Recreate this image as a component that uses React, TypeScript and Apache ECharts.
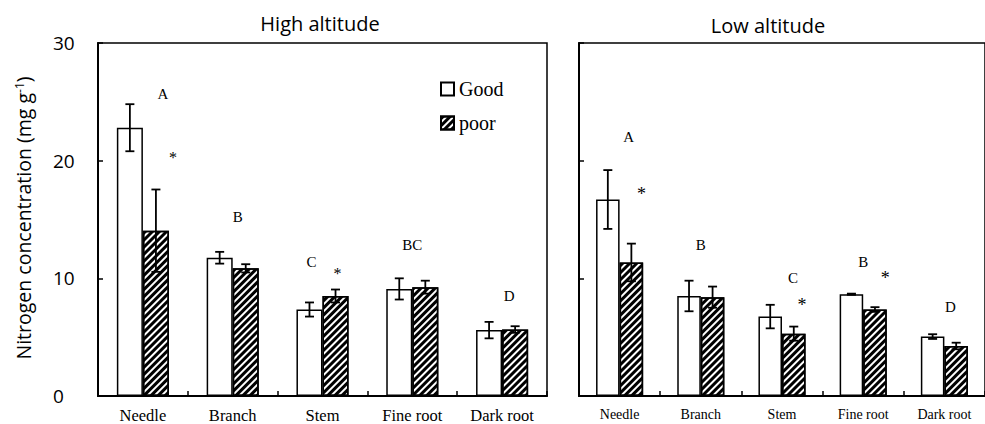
import React, { useEffect, useRef } from "react";
import * as echarts from "echarts";

const categories = ["Needle", "Branch", "Stem", "Fine root", "Dark root"];
const seriesNames = ["Good", "poor"];
const yTicks = [0, 10, 20, 30];

const highGood = [22.8, 11.75, 7.35, 9.1, 5.6];
const highGoodErr = [2.0, 0.5, 0.6, 0.9, 0.7];
const highPoor = [14.05, 10.85, 8.5, 9.25, 5.65];
const highPoorErr = [3.5, 0.35, 0.55, 0.55, 0.28];

const lowGood = [16.7, 8.5, 6.75, 8.65, 5.05];
const lowGoodErr = [2.5, 1.3, 1.0, 0.05, 0.2];
const lowPoor = [11.35, 8.4, 5.3, 7.35, 4.25];
const lowPoorErr = [1.6, 0.9, 0.6, 0.2, 0.28];

const highLetters = ["A", "B", "C", "BC", "D"];
const highLetterY = [25.7, 15.2, 11.4, 12.8, 8.5];
const highStarCats = [0, 2];
const highStarY = [20.3, 10.4];

const lowLetters = ["A", "B", "C", "B", "D"];
const lowLetterY = [22.0, 12.8, 10.0, 11.4, 7.6];
const lowStarCats = [0, 2, 3];
const lowStarY = [17.2, 7.7, 10.0];

// layout offsets (pixels) for annotations
const highLetterDx = [20, 5, -11, 0, 7];
const highStarDx = [30, 15];
const lowLetterDx = [9, 0, 11, 0, 6];
const lowStarDx = [22, 20, 22];

const GAP = 0.42;
const SERIF = "'Liberation Serif', 'Times New Roman', serif";
const SANS = "'Open Sans', 'Noto Sans', sans-serif";

const hatch = {
  symbol: "rect",
  symbolSize: 1,
  dashArrayX: [1, 0],
  dashArrayY: [3, 2],
  rotation: -Math.PI / 4,
  color: "#000",
  backgroundColor: "#fff",
};

function errSeries(axisIdx: number, vals: number[], errs: number[], side: number) {
  return {
    type: "custom",
    xAxisIndex: axisIdx,
    yAxisIndex: axisIdx,
    z: 5,
    silent: true,
    data: vals.map((v, i) => [i, v, errs[i]]),
    renderItem: (params: any, api: any) => {
      const i = api.value(0);
      const v = api.value(1);
      const e = api.value(2);
      const band = api.size([1, 0])[0];
      const barW = (band * (1 - GAP)) / 2;
      const cx = api.coord([i, v])[0] + (side === 0 ? -barW / 2 : barW / 2);
      const yTop = api.coord([i, v + e])[1];
      const yBot = api.coord([i, v - e])[1];
      const cap = 4.5;
      const st = { stroke: "#000", lineWidth: 1.8 };
      return {
        type: "group",
        children: [
          { type: "line", shape: { x1: cx, y1: yTop, x2: cx, y2: yBot }, style: st },
          { type: "line", shape: { x1: cx - cap, y1: yTop, x2: cx + cap, y2: yTop }, style: st },
          { type: "line", shape: { x1: cx - cap, y1: yBot, x2: cx + cap, y2: yBot }, style: st },
        ],
      };
    },
  };
}

function textSeries(axisIdx: number, cats: number[], ys: number[], texts: string[], dxs: number[], size: number) {
  return {
    type: "custom",
    xAxisIndex: axisIdx,
    yAxisIndex: axisIdx,
    z: 6,
    silent: true,
    data: cats.map((c, k) => [c, ys[k], k]),
    renderItem: (params: any, api: any) => {
      const k = api.value(2);
      const p = api.coord([api.value(0), api.value(1)]);
      return {
        type: "text",
        x: p[0] + dxs[k],
        y: p[1],
        style: {
          text: texts[k],
          fill: "#000",
          font: `${size}px ${SERIF}`,
          textAlign: "center",
          textVerticalAlign: "middle",
        },
      };
    },
  };
}

function barSeries(axisIdx: number, name: string, vals: number[], poor: boolean) {
  return {
    type: "bar",
    name,
    xAxisIndex: axisIdx,
    yAxisIndex: axisIdx,
    data: vals,
    barGap: "0%",
    barCategoryGap: `${GAP * 100}%`,
    itemStyle: poor
      ? { color: "#fff", borderColor: "#000", borderWidth: 1.5, decal: hatch }
      : { color: "#fff", borderColor: "#000", borderWidth: 1.5 },
  };
}

export default function App() {
  const ref = useRef<HTMLDivElement>(null);
  useEffect(() => {
    if (!ref.current) return;
    const chart = echarts.init(ref.current, null, { renderer: "svg" });
    const xAxisBase = (gi: number, fs: number) => ({
      type: "category",
      gridIndex: gi,
      data: categories,
      axisLine: { show: true, lineStyle: { color: "#000", width: 2 } },
      axisTick: { show: true, inside: true, length: 5, lineStyle: { color: "#000", width: 1.5 } },
      axisLabel: { color: "#000", fontFamily: SERIF, fontSize: fs, margin: 11 },
      splitLine: { show: false },
    });
    const yAxisBase = (gi: number, showLabel: boolean) => ({
      type: "value",
      gridIndex: gi,
      min: yTicks[0],
      max: yTicks[yTicks.length - 1],
      interval: 10,
      axisLine: { show: true, lineStyle: { color: "#000", width: 2 } },
      axisTick: { show: true, inside: true, length: 5, lineStyle: { color: "#000", width: 1.5 } },
      axisLabel: {
        show: showLabel,
        color: "#000",
        fontFamily: SANS,
        fontSize: 19,
        align: "left",
        margin: 45,
      },
      splitLine: { show: false },
    });
    chart.setOption({
      animation: false,
      backgroundColor: "#fff",
      grid: [
        { left: 98, top: 43, width: 449, height: 353, show: true, borderColor: "#000", borderWidth: 1.5, backgroundColor: "transparent" },
        { left: 579, top: 43, width: 417, height: 353, show: true, borderColor: "#000", borderWidth: 1.5, backgroundColor: "transparent" },
      ],
      xAxis: [xAxisBase(0, 16.5), xAxisBase(1, 14)],
      yAxis: [yAxisBase(0, true), yAxisBase(1, false)],
      legend: {
        show: true,
        orient: "vertical",
        left: 440,
        top: 79,
        padding: 0,
        itemWidth: 13,
        itemHeight: 13,
        itemGap: 14,
        icon: "rect",
        data: seriesNames,
        textStyle: { color: "#000", fontFamily: SERIF, fontSize: 20 },
      },
      graphic: [
        {
          type: "text",
          x: 320,
          y: 23,
          style: { text: "High altitude", fill: "#000", font: `20px ${SANS}`, textAlign: "center", textVerticalAlign: "middle" },
        },
        {
          type: "text",
          x: 768,
          y: 25,
          style: { text: "Low altitude", fill: "#000", font: `20px ${SANS}`, textAlign: "center", textVerticalAlign: "middle" },
        },
        {
          type: "text",
          x: 23,
          y: 218,
          rotation: Math.PI / 2,
          style: {
            text: "{a|Nitrogen concentration (mg g}{b|-1}{a|)}",
            textAlign: "center",
            textVerticalAlign: "middle",
            rich: {
              a: { fontFamily: SANS, fontSize: 19.5, fill: "#000", verticalAlign: "bottom" },
              b: { fontFamily: SANS, fontSize: 12, fill: "#000", verticalAlign: "top" },
            },
          },
        },
      ],
      series: [
        barSeries(0, seriesNames[0], highGood, false),
        barSeries(0, seriesNames[1], highPoor, true),
        barSeries(1, seriesNames[0], lowGood, false),
        barSeries(1, seriesNames[1], lowPoor, true),
        errSeries(0, highGood, highGoodErr, 0),
        errSeries(0, highPoor, highPoorErr, 1),
        errSeries(1, lowGood, lowGoodErr, 0),
        errSeries(1, lowPoor, lowPoorErr, 1),
        textSeries(0, categories.map((_, i) => i), highLetterY, highLetters, highLetterDx, 15),
        textSeries(0, highStarCats, highStarY, highStarCats.map(() => "*"), highStarDx, 16),
        textSeries(1, categories.map((_, i) => i), lowLetterY, lowLetters, lowLetterDx, 15),
        textSeries(1, lowStarCats, lowStarY, lowStarCats.map(() => "*"), lowStarDx, 18),
      ],
    });
    return () => chart.dispose();
  }, []);
  return <div ref={ref} style={{ width: 985, height: 424, position: "absolute", left: 0, top: 0 }} />;
}
